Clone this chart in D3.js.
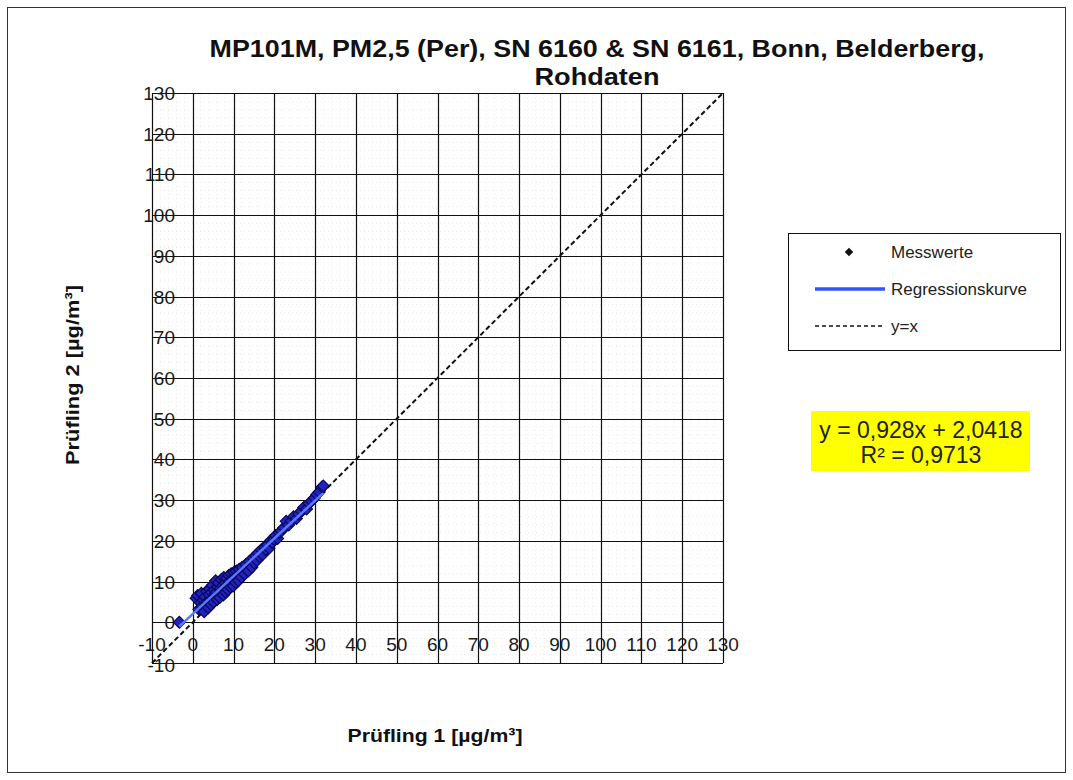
<!DOCTYPE html>
<html>
<head>
<meta charset="utf-8">
<script src="https://cdn.jsdelivr.net/npm/d3@7"></script>
<style>
  body { margin: 0; background: #fff; }
  svg { display: block; }
  text { font-family: "Liberation Sans", Arial, sans-serif; }
</style>
</head>
<body>
<svg id="chart" width="1073" height="780"></svg>
<script>
const titleLines = ["MP101M, PM2,5 (Per), SN 6160 & SN 6161, Bonn, Belderberg,", "Rohdaten"];
const xTitle = "Prüfling 1 [µg/m³]";
const yTitle = "Prüfling 2 [µg/m³]";
const tickValues = [-10, 0, 10, 20, 30, 40, 50, 60, 70, 80, 90, 100, 110, 120, 130];
const legendLabels = ["Messwerte", "Regressionskurve", "y=x"];
const equationLines = ["y = 0,928x + 2,0418", "R² = 0,9713"];
const slope = 0.928, intercept = 2.0418;

const pruefling1 = [-3.3, 0.8, 1.2, 1.5, 1.9, 2.1, 2.3, 2.6, 2.8, 3.0, 3.2, 3.4, 3.6, 3.8, 4.0, 4.1, 4.3, 4.5, 4.6, 4.8,
  5.0, 5.1, 5.3, 5.5, 5.6, 5.8, 6.0, 6.1, 6.3, 6.5, 6.6, 6.8, 7.0, 7.1, 7.3, 7.5, 7.6, 7.8, 8.0, 8.1,
  8.3, 8.5, 8.6, 8.8, 9.0, 9.2, 9.4, 9.5, 9.7, 9.9, 10.1, 10.3, 10.5, 10.7, 10.9, 11.2, 11.4, 11.6, 11.9, 12.1,
  12.4, 12.7, 13.0, 13.3, 13.6, 13.9, 14.2, 14.5, 14.8, 15.1, 15.4, 15.7, 16.0, 16.4, 16.8, 17.1, 17.5, 17.9, 18.3, 18.7,
  19.1, 19.5, 19.9, 20.3, 20.8, 21.2, 21.7, 22.3, 22.9, 23.5, 24.1, 24.7, 25.4, 26.0, 26.6, 27.2, 27.9, 28.5, 29.1, 29.8,
  30.4, 31.0, 31.7, 32.0];
const pruefling2 = [0.0, 5.9, 6.6, 3.2, 4.8, 7.1, 3.9, 5.5, 2.6, 6.2, 4.4, 7.6, 5.1, 3.6, 6.8, 8.2, 5.4, 4.3, 7.3, 9.1,
  6.0, 5.0, 8.0, 6.9, 10.2, 7.4, 5.6, 8.6, 9.7, 7.0, 6.1, 8.3, 10.5, 7.6, 9.0, 6.7, 11.0, 8.5, 9.6, 7.4,
  10.8, 9.2, 8.0, 11.5, 10.1, 8.7, 11.9, 9.5, 10.7, 8.9, 12.3, 11.0, 9.8, 12.6, 11.4, 10.2, 13.0, 12.0, 11.1, 13.5,
  12.4, 11.8, 14.2, 13.0, 12.6, 15.0, 14.1, 13.5, 15.8, 14.6, 16.4, 15.2, 17.0, 16.1, 17.8, 16.6, 18.4, 17.9, 19.0, 18.2,
  20.1, 19.6, 20.4, 21.3, 20.6, 22.0, 22.4, 23.2, 24.8, 23.9, 24.8, 25.9, 25.5, 26.6, 27.3, 28.2, 27.8, 29.2, 29.8, 30.5,
  31.4, 32.0, 33.2, 33.5];

const svg = d3.select("#chart");

// outer border
svg.append("rect").attr("x", 7.5).attr("y", 7.5).attr("width", 1058).attr("height", 765)
  .attr("fill", "none").attr("stroke", "#333").attr("stroke-width", 1);

const x = d3.scaleLinear().domain([-10, 130]).range([152, 723]);
const y = d3.scaleLinear().domain([-10, 130]).range([663, 93]);

// minor gridlines (faint)
const minor = d3.range(-8, 130, 2).filter(v => v % 10 !== 0);
const gMinor = svg.append("g");
gMinor.selectAll("line.mx").data(minor).join("line")
  .attr("x1", d => x(d)).attr("x2", d => x(d)).attr("y1", y(-10)).attr("y2", y(130))
  .attr("stroke", "#ececec").attr("stroke-width", 1).attr("stroke-dasharray", "1,3");
gMinor.selectAll("line.my").data(minor).join("line")
  .attr("y1", d => y(d)).attr("y2", d => y(d)).attr("x1", x(-10)).attr("x2", x(130))
  .attr("stroke", "#ececec").attr("stroke-width", 1).attr("stroke-dasharray", "1,3");

// major gridlines
const gGrid = svg.append("g");
gGrid.selectAll("line.gx").data(tickValues).join("line")
  .attr("x1", d => Math.round(x(d)) + 0.5).attr("x2", d => Math.round(x(d)) + 0.5)
  .attr("y1", y(-10)).attr("y2", y(130))
  .attr("stroke", "#111").attr("stroke-width", 1.2);
gGrid.selectAll("line.gy").data(tickValues).join("line")
  .attr("y1", d => Math.round(y(d)) + 0.5).attr("y2", d => Math.round(y(d)) + 0.5)
  .attr("x1", x(-10)).attr("x2", x(130))
  .attr("stroke", "#111").attr("stroke-width", 1.2);

// y = x dashed line
svg.append("line")
  .attr("x1", x(-10)).attr("y1", y(-10)).attr("x2", x(130)).attr("y2", y(130))
  .attr("stroke", "#111").attr("stroke-width", 2).attr("stroke-dasharray", "5,3");

// points (diamonds = rotated squares)
const sym = d3.symbol().type(d3.symbolSquare).size(70);
svg.append("g").selectAll("path").data(pruefling1.map((v, i) => [v, pruefling2[i]])).join("path")
  .attr("d", sym)
  .attr("transform", d => `translate(${x(d[0])},${y(d[1])}) rotate(45)`)
  .attr("fill", "#2222c0").attr("stroke", "#0a0a5a").attr("stroke-width", 1.2);

// regression line
const xmin = d3.min(pruefling1), xmax = d3.max(pruefling1);
svg.append("line")
  .attr("x1", x(xmin)).attr("y1", y(slope * xmin + intercept))
  .attr("x2", x(xmax)).attr("y2", y(slope * xmax + intercept))
  .attr("stroke", "#5a78ff").attr("stroke-width", 2.5);

// axis tick labels
svg.append("g").selectAll("text").data(tickValues).join("text")
  .attr("x", d => x(d)).attr("y", 651)
  .attr("text-anchor", "middle").attr("font-size", 19).attr("fill", "#1a1a1a")
  .text(d => d);
svg.append("g").selectAll("text").data(tickValues).join("text")
  .attr("x", 175).attr("y", d => y(d) + (d === -10 ? 9 : 7))
  .attr("text-anchor", "end").attr("font-size", 19).attr("fill", "#1a1a1a")
  .text(d => d);

// title
svg.append("g").selectAll("text").data(titleLines).join("text")
  .attr("x", 597).attr("y", (d, i) => 57 + i * 28)
  .attr("text-anchor", "middle").attr("font-size", 24).attr("font-weight", "bold").attr("fill", "#111")
  .attr("textLength", (d, i) => i === 0 ? 775 : 125).attr("lengthAdjust", "spacingAndGlyphs")
  .text(d => d);

// axis titles
svg.append("text").attr("x", 435).attr("y", 742)
  .attr("text-anchor", "middle").attr("font-size", 19).attr("font-weight", "bold").attr("fill", "#111")
  .attr("textLength", 175).attr("lengthAdjust", "spacingAndGlyphs")
  .text(xTitle);
svg.append("text").attr("transform", "translate(79,375) rotate(-90)")
  .attr("text-anchor", "middle").attr("font-size", 19).attr("font-weight", "bold").attr("fill", "#111")
  .attr("textLength", 180).attr("lengthAdjust", "spacingAndGlyphs")
  .text(yTitle);

// legend
const lg = svg.append("g");
lg.append("rect").attr("x", 788.5).attr("y", 233.5).attr("width", 272).attr("height", 117)
  .attr("fill", "#fff").attr("stroke", "#111").attr("stroke-width", 1);
lg.append("path").attr("d", d3.symbol().type(d3.symbolSquare).size(36)())
  .attr("transform", "translate(849,252) rotate(45)").attr("fill", "#111");
lg.append("line").attr("x1", 815).attr("x2", 885).attr("y1", 289).attr("y2", 289)
  .attr("stroke", "#3355ff").attr("stroke-width", 3.5);
lg.append("line").attr("x1", 815).attr("x2", 885).attr("y1", 326).attr("y2", 326)
  .attr("stroke", "#111").attr("stroke-width", 1.5).attr("stroke-dasharray", "4,3");
lg.selectAll("text").data(legendLabels).join("text")
  .attr("x", 891).attr("y", (d, i) => 258 + i * 37)
  .attr("font-size", 17).attr("fill", "#222").text(d => d);

// equation box
svg.append("rect").attr("x", 811).attr("y", 411).attr("width", 219).attr("height", 60).attr("fill", "#ffff00");
svg.append("g").selectAll("text").data(equationLines).join("text")
  .attr("x", 921).attr("y", (d, i) => 438 + i * 25)
  .attr("text-anchor", "middle").attr("font-size", 23).attr("fill", "#222").text(d => d);
</script>
</body>
</html>
